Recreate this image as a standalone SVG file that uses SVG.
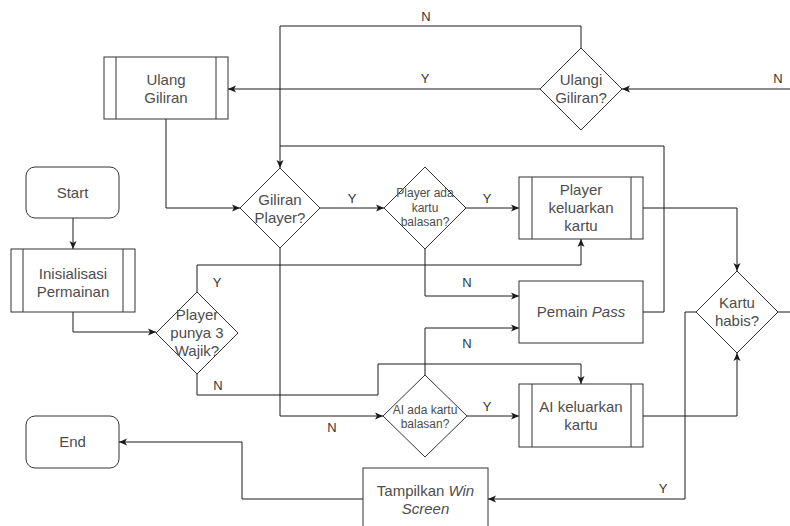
<svg xmlns="http://www.w3.org/2000/svg" width="790" height="526" viewBox="0 0 790 526">
<defs>
<style>
.shape{fill:#fff;stroke:#333;stroke-width:1}
.edge{fill:none;stroke:#1a1a1a;stroke-width:1}
.t{font-family:"Liberation Sans",Arial,sans-serif;font-size:15px;fill:#4d4d4d;text-anchor:middle}
.s{font-size:12px}
.lbl{font-family:"Liberation Sans",Arial,sans-serif;font-size:13px;fill:#333;text-anchor:middle}
</style>
<marker id="arr" markerWidth="10" markerHeight="8" refX="8" refY="4" orient="auto" markerUnits="userSpaceOnUse">
<path d="M0,0.5 L8,4 L0,7.5 L2,4 Z" fill="#1a1a1a"/>
</marker>
</defs>
<rect width="790" height="526" fill="#fff"/>
<g id="connectors">
<path class="edge" d="M73,218 L73,249" marker-end="url(#arr)"/>
<path class="edge" d="M73,312 L73,332 L156,332" marker-end="url(#arr)"/>
<path class="edge" d="M197,292 L197,265 L581,265 L581,239" marker-end="url(#arr)"/>
<path class="edge" d="M197,374 L197,395 L378,395 L378,364 L581,364 L581,384" marker-end="url(#arr)"/>
<path class="edge" d="M166,119 L166,208 L240,208" marker-end="url(#arr)"/>
<path class="edge" d="M581,48 L581,26 L280,26 L280,168" marker-end="url(#arr)"/>
<path class="edge" d="M643,312 L664,312 L664,146 L280,146"/>
<path class="edge" d="M540,89 L228,89" marker-end="url(#arr)"/>
<path class="edge" d="M790,89 L622,89" marker-end="url(#arr)"/>
<path class="edge" d="M320,208 L384,208" marker-end="url(#arr)"/>
<path class="edge" d="M280,248 L280,416 L383,416" marker-end="url(#arr)"/>
<path class="edge" d="M466,208 L519,208" marker-end="url(#arr)"/>
<path class="edge" d="M425,249 L425,296 L519,296" marker-end="url(#arr)"/>
<path class="edge" d="M425,375 L425,328 L519,328" marker-end="url(#arr)"/>
<path class="edge" d="M467,416 L519,416" marker-end="url(#arr)"/>
<path class="edge" d="M643,208 L737,208 L737,271" marker-end="url(#arr)"/>
<path class="edge" d="M643,416 L737,416 L737,353" marker-end="url(#arr)"/>
<path class="edge" d="M696,312 L685,312 L685,499 L488,499" marker-end="url(#arr)"/>
<path class="edge" d="M778,312 L790,312"/>
<path class="edge" d="M363,499 L242,499 L242,442 L119,442" marker-end="url(#arr)"/>
<text class="lbl" x="426" y="21">N</text>
<text class="lbl" x="425" y="83">Y</text>
<text class="lbl" x="778" y="83">N</text>
<text class="lbl" x="352" y="203">Y</text>
<text class="lbl" x="487" y="203">Y</text>
<text class="lbl" x="217" y="287">Y</text>
<text class="lbl" x="467" y="287">N</text>
<text class="lbl" x="467" y="348">N</text>
<text class="lbl" x="218" y="390">N</text>
<text class="lbl" x="487" y="411">Y</text>
<text class="lbl" x="332" y="432">N</text>
<text class="lbl" x="663" y="493">Y</text>
</g>
<g id="start">
<rect class="shape" x="26" y="167" width="93" height="51" rx="9"/>
<text class="t" x="72.5" y="198">Start</text>
</g>
<g id="inisialisasi">
<rect class="shape" x="11" y="249" width="124" height="63"/>
<path class="shape" d="M23,249 V312 M123,249 V312"/>
<text class="t" x="73" y="279">Inisialisasi</text>
<text class="t" x="73" y="297">Permainan</text>
</g>
<g id="punya3wajik">
<path class="shape" d="M197,292 L238,333 L197,374 L156,333 Z"/>
<text class="t" x="197" y="320">Player</text>
<text class="t" x="197" y="338">punya 3</text>
<text class="t" x="197" y="356">Wajik?</text>
</g>
<g id="ulang-giliran">
<rect class="shape" x="104" y="57" width="124" height="62"/>
<path class="shape" d="M116,57 V119 M216,57 V119"/>
<text class="t" x="166" y="85">Ulang</text>
<text class="t" x="166" y="103">Giliran</text>
</g>
<g id="ulangi-giliran">
<path class="shape" d="M581,48 L622,89 L581,130 L540,89 Z"/>
<text class="t" x="581" y="85">Ulangi</text>
<text class="t" x="581" y="103">Giliran?</text>
</g>
<g id="giliran-player">
<path class="shape" d="M280,168 L320,208 L280,248 L240,208 Z"/>
<text class="t" x="280" y="205">Giliran</text>
<text class="t" x="280" y="223">Player?</text>
</g>
<g id="player-ada">
<path class="shape" d="M425,167 L466,208 L425,249 L384,208 Z"/>
<text class="t s" x="425" y="197">Player ada</text>
<text class="t s" x="425" y="212">kartu</text>
<text class="t s" x="425" y="226">balasan?</text>
</g>
<g id="player-keluarkan">
<rect class="shape" x="519" y="177" width="124" height="62"/>
<path class="shape" d="M532,177 V239 M631,177 V239"/>
<text class="t" x="581" y="195">Player</text>
<text class="t" x="581" y="213">keluarkan</text>
<text class="t" x="581" y="231">kartu</text>
</g>
<g id="pemain-pass">
<rect class="shape" x="519" y="281" width="124" height="62"/>
<text class="t" x="581" y="317">Pemain <tspan font-style="italic">Pass</tspan></text>
</g>
<g id="ai-ada">
<path class="shape" d="M425,375 L467,416 L425,457 L383,416 Z"/>
<text class="t s" x="425" y="414">AI ada kartu</text>
<text class="t s" x="425" y="428">balasan?</text>
</g>
<g id="ai-keluarkan">
<rect class="shape" x="519" y="384" width="124" height="63"/>
<path class="shape" d="M532,384 V447 M631,384 V447"/>
<text class="t" x="581" y="412">AI keluarkan</text>
<text class="t" x="581" y="430">kartu</text>
</g>
<g id="kartu-habis">
<path class="shape" d="M737,271 L778,312 L737,353 L696,312 Z"/>
<text class="t" x="737" y="308">Kartu</text>
<text class="t" x="737" y="326">habis?</text>
</g>
<g id="end">
<rect class="shape" x="26" y="416" width="93" height="52" rx="9"/>
<text class="t" x="72.5" y="447">End</text>
</g>
<g id="tampilkan">
<rect class="shape" x="363" y="468" width="125" height="62"/>
<text class="t" x="425.5" y="496">Tampilkan <tspan font-style="italic">Win</tspan></text>
<text class="t" x="425.5" y="514" font-style="italic">Screen</text>
</g>
</svg>
